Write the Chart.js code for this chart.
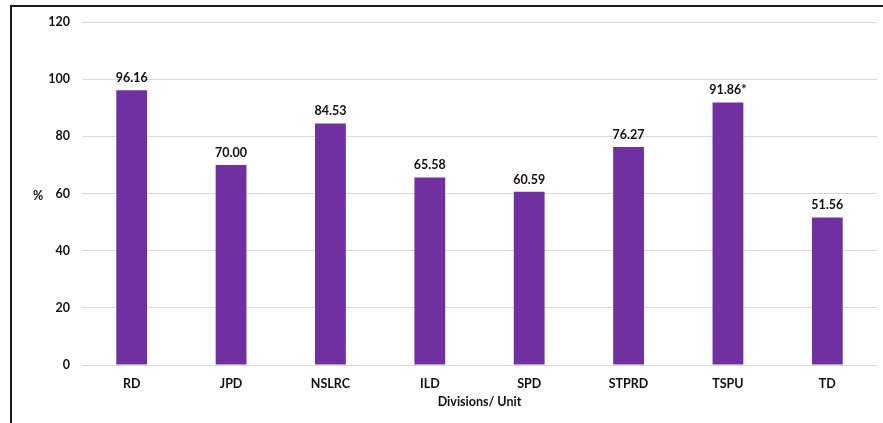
<!DOCTYPE html>
<html>
<head>
<meta charset="utf-8">
<script src="https://cdn.jsdelivr.net/npm/chart.js@4"></script>
<style>
    html, body { margin: 0; padding: 0; background: #fff; }
    .frame {
        position: absolute;
        left: 10px;
        top: 5px;
        width: 873px;
        height: 418px;
        border-top: 2px solid #1a1a1a;
        border-left: 2px solid #1a1a1a;
        box-sizing: border-box;
    }
    .wrap { position: absolute; left: 0; top: 0; width: 883px; height: 423px; }
</style>
</head>
<body>
<div class="frame"></div>
<div class="wrap"><canvas id="chart"></canvas></div>
<script>
// Division / unit data
const categories = ['RD', 'JPD', 'NSLRC', 'ILD', 'SPD', 'STPRD', 'TSPU', 'TD'];
const values = [96.16, 70.00, 84.53, 65.58, 60.59, 76.27, 91.86, 51.56];
const valueLabels = ['96.16', '70.00', '84.53', '65.58', '60.59', '76.27', '91.86*', '51.56'];
const yTicks = [0, 20, 40, 60, 80, 100, 120];

const FONT = 'Lato, "Open Sans", sans-serif';

// Value labels above bars and axis titles
const labelPlugin = {
    id: 'labels',
    afterDatasetsDraw(chart) {
        const ctx = chart.ctx;
        const meta = chart.getDatasetMeta(0);
        ctx.save();
        ctx.font = 'bold 12.5px ' + FONT;
        ctx.fillStyle = '#111';
        ctx.textAlign = 'center';
        ctx.textBaseline = 'bottom';
        meta.data.forEach((bar, i) => {
            ctx.fillText(valueLabels[i], bar.x, bar.y - 6);
        });

        const area = chart.chartArea;
        ctx.textBaseline = 'middle';
        ctx.fillText('%', 38, (area.top + area.bottom) / 2 + 2);
        ctx.fillText('Divisions/ Unit', (area.left + area.right) / 2, 402);
        ctx.restore();
    }
};

new Chart(document.getElementById('chart').getContext('2d'), {
    type: 'bar',
    data: {
        labels: categories,
        datasets: [{
            data: values,
            backgroundColor: '#7030A0',
            borderWidth: 0,
            barPercentage: 0.31,
            categoryPercentage: 1
        }]
    },
    options: {
        responsive: true,
        maintainAspectRatio: false,
        animation: false,
        layout: {
            padding: { top: 22, right: 6, left: 0, bottom: 0 }
        },
        plugins: {
            legend: { display: false },
            tooltip: { enabled: false }
        },
        scales: {
            x: {
                grid: { display: false },
                border: { display: false },
                ticks: {
                    color: '#111',
                    padding: 3,
                    font: { family: FONT, size: 12.5, weight: 'bold' }
                },
                afterFit(scale) { scale.height = 58; }
            },
            y: {
                min: 0,
                max: 120,
                afterBuildTicks(scale) {
                    scale.ticks = yTicks.map(v => ({ value: v }));
                },
                grid: {
                    color: '#d9d9d9',
                    lineWidth: 1,
                    drawTicks: false
                },
                border: { display: false },
                ticks: {
                    color: '#111',
                    padding: 12,
                    font: { family: FONT, size: 12.5, weight: 'bold' }
                },
                afterFit(scale) { scale.width = 82; }
            }
        }
    },
    plugins: [labelPlugin]
});
</script>
</body>
</html>
